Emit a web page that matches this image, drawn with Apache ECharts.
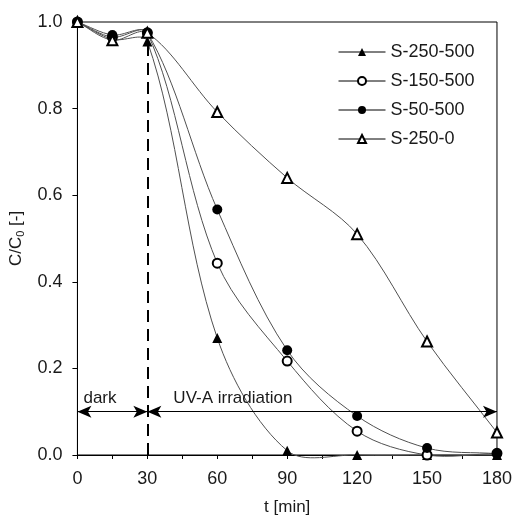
<!DOCTYPE html>
<html>
<head>
<meta charset="utf-8">
<script src="https://cdn.jsdelivr.net/npm/echarts@6/dist/echarts.min.js"></script>
<style>
  html, body { margin: 0; padding: 0; background: #fff; }
  #chart { width: 515px; height: 521px; }
</style>
</head>
<body>
<div id="chart"></div>
<script>
// sampling times [min]
const times = [0, 15, 30, 60, 90, 120, 150, 180]

// C/C0
const s250_500 = [1.0, 0.96, 0.955, 0.27, 0.01, 0.0, 0.0, 0.0]
const s150_500 = [1.0, 0.965, 0.975, 0.443, 0.217, 0.055, 0.0, 0.004]
const s50_500 = [1.0, 0.97, 0.975, 0.567, 0.242, 0.09, 0.016, 0.003]
const s250_0 = [1.0, 0.958, 0.975, 0.792, 0.64, 0.51, 0.262, 0.052]

// phase annotations
const darkPhase = [0, 30]
const uvPhase = [30, 180]
const arrowLevel = 0.1
const switchTop = 0.945

const font = 'Liberation Sans, Arial, sans-serif'
const lineGray = '#505050'
const textColor = '#1a1a1a'

const toPairs = vals => times.map((t, i) => [t, vals[i]])

const chart = echarts.init(document.getElementById('chart'))

// smoothed connecting curve, one bezier per segment; tangent from the
// neighbours, control lengths scaled by segment length (no clamping)
const SMOOTH = 1 / 3
const makeCurve = vals => ({
  type: 'custom',
  silent: true,
  clip: false,
  data: toPairs(vals),
  encode: { x: 0, y: 1 },
  z: 2,
  renderItem: (params, api) => {
    const n = times.length
    const i = params.dataIndex
    if (i >= n - 1) return
    const pts = times.map((t, k) => api.coord([t, vals[k]]))
    const dist = (a, b) => Math.hypot(b[0] - a[0], b[1] - a[1])
    const p0 = pts[Math.max(i - 1, 0)]
    const p1 = pts[i]
    const p2 = pts[i + 1]
    const p3 = pts[Math.min(i + 2, n - 1)]
    const seg = dist(p1, p2)
    const prev = dist(p0, p1)
    const next = dist(p2, p3)
    const r1 = seg / (prev + seg || 1)
    const r2 = seg / (seg + next || 1)
    return {
      type: 'bezierCurve',
      shape: {
        x1: p1[0], y1: p1[1],
        x2: p2[0], y2: p2[1],
        cpx1: p1[0] + (p2[0] - p0[0]) * r1 * SMOOTH,
        cpy1: p1[1] + (p2[1] - p0[1]) * r1 * SMOOTH,
        cpx2: p2[0] - (p3[0] - p1[0]) * r2 * SMOOTH,
        cpy2: p2[1] - (p3[1] - p1[1]) * r2 * SMOOTH
      },
      style: { stroke: lineGray, lineWidth: 1, fill: null }
    }
  }
})

// markers (and legend entry)
const makeMarkers = (name, vals, symbol, size, borderW) => ({
  name: name,
  type: 'line',
  data: toPairs(vals),
  symbol: symbol,
  symbolSize: size,
  showAllSymbol: true,
  lineStyle: { color: '#000', width: 1, opacity: 0 },
  itemStyle: { color: '#000', borderColor: '#000', borderWidth: borderW },
  z: 3
})

const series = [
  makeCurve(s250_500),
  makeCurve(s150_500),
  makeCurve(s50_500),
  makeCurve(s250_0),
  makeMarkers('S-250-500', s250_500, 'triangle', 10, 0),
  makeMarkers('S-150-500', s150_500, 'emptyCircle', 9, 1.6),
  makeMarkers('S-50-500', s50_500, 'circle', 10, 0),
  makeMarkers('S-250-0', s250_0, 'emptyTriangle', 10, 1.6)
]

// arrows, phase labels and the dashed switch line
series.push({
  type: 'line',
  data: [],
  silent: true,
  markLine: {
    silent: true,
    animation: false,
    symbol: ['arrow', 'arrow'],
    symbolSize: [9, 14],
    lineStyle: { color: '#000', width: 1, type: 'solid' },
    label: {
      show: true,
      position: 'insideStartTop',
      color: textColor,
      fontFamily: font,
      fontSize: 17,
      distance: [0, 5]
    },
    data: [
      [
        { coord: [darkPhase[0], arrowLevel], label: { formatter: 'dark', padding: [0, 0, 0, 6] } },
        { coord: [darkPhase[1], arrowLevel] }
      ],
      [
        { coord: [uvPhase[0], arrowLevel], label: { formatter: 'UV-A irradiation', padding: [0, 0, 0, 26] } },
        { coord: [uvPhase[1], arrowLevel] }
      ],
      [
        { coord: [darkPhase[1], 0], symbol: 'none', lineStyle: { type: [12, 7], width: 2 }, label: { show: false } },
        { coord: [darkPhase[1], switchTop], symbol: 'none' }
      ]
    ]
  }
})

const option = {
  animation: false,
  textStyle: { fontFamily: font },
  grid: {
    left: 77,
    right: 18,
    top: 22,
    bottom: 64,
    show: true,
    borderColor: '#000',
    borderWidth: 1
  },
  legend: {
    orient: 'vertical',
    left: 333,
    top: 38,
    itemWidth: 47,
    itemHeight: 10,
    itemGap: 11,
    lineStyle: { opacity: 1, color: '#000', width: 1 },
    textStyle: { fontSize: 18, color: textColor, fontFamily: font },
    data: ['S-250-500', 'S-150-500', 'S-50-500', 'S-250-0']
  },
  xAxis: {
    type: 'value',
    min: 0,
    max: 180,
    interval: 30,
    name: 't [min]',
    nameLocation: 'middle',
    nameGap: 44,
    nameTextStyle: { fontSize: 17, color: textColor, fontFamily: font },
    axisLine: { lineStyle: { color: '#000', width: 1 } },
    axisTick: { show: true, length: 4, lineStyle: { color: '#000' } },
    minorTick: { show: true, splitNumber: 2, length: 4, lineStyle: { color: '#000' } },
    axisLabel: { fontSize: 18, color: textColor, margin: 15, fontFamily: font },
    splitLine: { show: false }
  },
  yAxis: {
    type: 'value',
    min: 0,
    max: 1,
    interval: 0.2,
    name: '{a|C/C}{sub|0}{a| [-]}',
    nameLocation: 'middle',
    nameRotate: 90,
    nameGap: 50,
    nameTextStyle: {
      rich: {
        a: { fontSize: 17, color: textColor, fontFamily: font },
        sub: { fontSize: 11, color: textColor, fontFamily: font, padding: [9, 0, 0, 0] }
      }
    },
    axisLine: { show: true, lineStyle: { color: '#000', width: 1 } },
    axisTick: { show: true, length: 5, lineStyle: { color: '#000' } },
    axisLabel: {
      fontSize: 18,
      color: textColor,
      margin: 15,
      fontFamily: font,
      formatter: v => v.toFixed(1)
    },
    splitLine: { show: false }
  },
  series: series
}

chart.setOption(option)
</script>
</body>
</html>
